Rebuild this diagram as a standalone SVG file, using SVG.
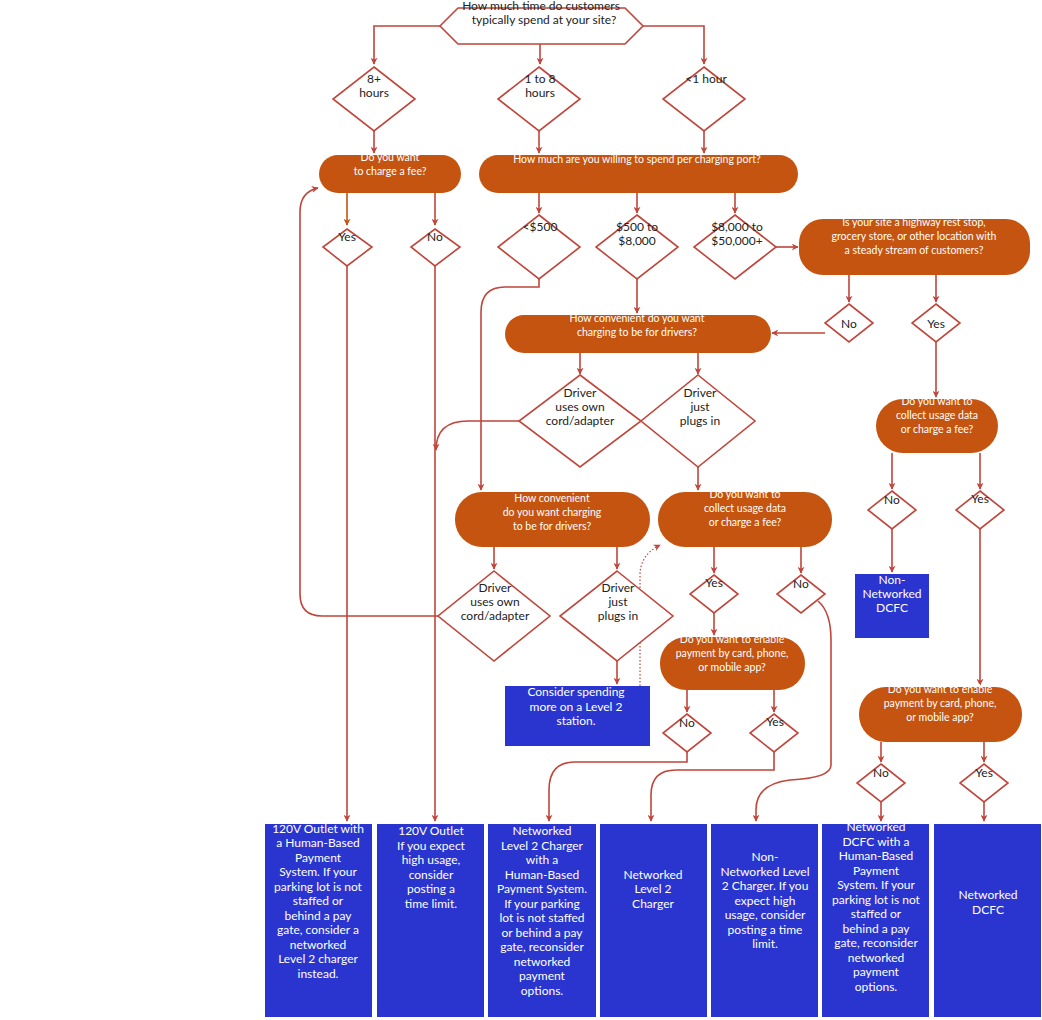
<svg xmlns="http://www.w3.org/2000/svg" width="1042" height="1020" viewBox="0 0 1042 1020">
<defs>
<marker id="ah" viewBox="0 0 10 10" refX="9" refY="5" markerWidth="7" markerHeight="7" orient="auto" markerUnits="userSpaceOnUse"><path d="M0,0 L10,5 L0,10 L3,5 Z" fill="#C0453A"/></marker>
<marker id="ao" viewBox="0 0 10 10" refX="9" refY="5" markerWidth="7" markerHeight="7" orient="auto" markerUnits="userSpaceOnUse"><path d="M0,0 L10,5 L0,10 L3,5 Z" fill="#C4540F"/></marker>
<style>
.d{fill:#fff;stroke:#C0453A;stroke-width:1.6}
.p{fill:#C4540F}
.b{fill:#2A35D0}
.c{fill:none;stroke:#C0453A;stroke-width:1.6;marker-end:url(#ah)}
text{font-family:Lato,"Open Sans",sans-serif;text-anchor:middle}
.dt{font-size:12px;fill:#222}
.pt{font-size:10.5px;fill:#fff}
.bt{font-size:12px;fill:#fff}
</style>
</defs>
<rect width="1042" height="1020" fill="#fff"/>
<g id="connectors">
<path class="c" d="M440,26 H374 V64"/>
<path class="c" d="M540,44 V64"/>
<path class="c" d="M643,26 H704 V64"/>
<path class="c" d="M374,131 V153"/>
<path class="c" d="M539,131 V153"/>
<path class="c" d="M704,131 V153"/>
<path d="M347,193 V225" fill="none" stroke="#C4540F" stroke-width="1.6" marker-end="url(#ao)"/>
<path class="c" d="M435,186 V225"/>
<path class="c" d="M539,186 V213"/>
<path class="c" d="M637,186 V213"/>
<path class="c" d="M735,186 V213"/>
<path class="c" d="M776,247 H798"/>
<path class="c" d="M849,275 V302"/>
<path class="c" d="M936,275 V302"/>
<path class="c" d="M825,333 H772"/>
<path class="c" d="M637,279 V313"/>
<path class="c" d="M539,279 V287 H505 Q481,287 481,312 V490"/>
<path class="c" d="M580,353 V374"/>
<path class="c" d="M698,353 V374"/>
<path class="c" d="M698,467 V490"/>
<path class="c" d="M519,421 H468 Q436,421 436,450"/>
<path class="c" d="M494,547 V569"/>
<path class="c" d="M617,547 V569"/>
<path class="c" d="M438,616 H322 Q300,616 300,594 V212 Q300,192 318,188"/>
<path class="c" d="M617,661 V684"/>
<path d="M640,686 V575 Q640,555 660,545" fill="none" stroke="#C0453A" stroke-width="1.2" stroke-dasharray="1.5,2" marker-end="url(#ah)"/>
<path class="c" d="M714,547 V573"/>
<path class="c" d="M801,547 V573"/>
<path class="c" d="M714,613 V635"/>
<path class="c" d="M687,690 V712"/>
<path class="c" d="M774,690 V712"/>
<path class="c" d="M687,752 V762 H575 Q549,762 549,790 V821"/>
<path class="c" d="M774,752 V770 H676 Q651,770 651,795 V821"/>
<path class="c" d="M818,601 Q831,612 831,640 V765 Q831,778 790,780 Q756,784 756,810 V821"/>
<path class="c" d="M347,266 V821"/>
<path class="c" d="M435,266 V821"/>
<path class="c" d="M936,342 V397"/>
<path class="c" d="M892,453 V489"/>
<path class="c" d="M980,453 V489"/>
<path class="c" d="M892,529 V572"/>
<path class="c" d="M980,529 V685"/>
<path class="c" d="M881,742 V762"/>
<path class="c" d="M984,742 V762"/>
<path class="c" d="M881,802 V821"/>
<path class="c" d="M984,802 V821"/>
</g>
<g id="n-start"><polygon class="d" points="440,26 458,8 625,8 643,26 625,44 458,44"/><text class="dt" x="541" y="10">How much time do customers</text><text class="dt" x="544" y="24">typically spend at your site?</text></g>
<g id="n-8h"><polygon class="d" points="374,67 415,99 374,131 333,99"/><text class="dt" x="374" y="83">8+</text><text class="dt" x="374" y="97">hours</text></g>
<g id="n-1to8"><polygon class="d" points="539,67 580,99 539,131 498,99"/><text class="dt" x="540" y="83">1 to 8</text><text class="dt" x="540" y="97">hours</text></g>
<g id="n-lt1"><polygon class="d" points="704,67 745,99 704,131 663,99"/><text class="dt" x="706" y="83">&lt;1 hour</text></g>
<g id="n-fee"><rect class="p" x="319" y="155" width="142" height="38" rx="19"/><text class="pt" x="390" y="161">Do you want</text><text class="pt" x="390" y="175">to charge a fee?</text></g>
<g id="n-spend"><rect class="p" x="479" y="155" width="319" height="38" rx="19"/><text class="pt" x="637" y="163">How much are you willing to spend per charging port?</text></g>
<g id="n-yes1"><polygon class="d" points="347,229 372,247 347,266 323,247"/><text class="dt" x="347" y="241">Yes</text></g>
<g id="n-no1"><polygon class="d" points="435,229 460,247 435,266 411,247"/><text class="dt" x="435" y="241">No</text></g>
<g id="n-lt500"><polygon class="d" points="539,215 580,247 539,279 498,247"/><text class="dt" x="540" y="231">&lt;$500</text></g>
<g id="n-500to8000"><polygon class="d" points="637,215 678,247 637,279 596,247"/><text class="dt" x="637" y="231">$500 to</text><text class="dt" x="637" y="245">$8,000</text></g>
<g id="n-8000to50000"><polygon class="d" points="735,215 776,247 735,279 694,247"/><text class="dt" x="737" y="231">$8,000 to</text><text class="dt" x="737" y="245">$50,000+</text></g>
<g id="n-highway"><rect class="p" x="799" y="219" width="231" height="56" rx="24"/><text class="pt" x="914" y="226">Is your site a highway rest stop,</text><text class="pt" x="914" y="240">grocery store, or other location with</text><text class="pt" x="914" y="254">a steady stream of customers?</text></g>
<g id="n-no2"><polygon class="d" points="849,304 873,323 849,342 825,323"/><text class="dt" x="849" y="328">No</text></g>
<g id="n-yes2"><polygon class="d" points="936,304 960,323 936,342 912,323"/><text class="dt" x="936" y="328">Yes</text></g>
<g id="n-conv1"><rect class="p" x="505" y="315" width="266" height="38" rx="19"/><text class="pt" x="637" y="322">How convenient do you want</text><text class="pt" x="637" y="336">charging to be for drivers?</text></g>
<g id="n-cord1"><polygon class="d" points="580,375 641,421 580,467 519,421"/><text class="dt" x="580" y="397">Driver</text><text class="dt" x="580" y="411">uses own</text><text class="dt" x="580" y="425">cord/adapter</text></g>
<g id="n-plug1"><polygon class="d" points="698,375 755,421 698,467 641,421"/><text class="dt" x="700" y="397">Driver</text><text class="dt" x="700" y="411">just</text><text class="dt" x="700" y="425">plugs in</text></g>
<g id="n-conv2"><rect class="p" x="455" y="492" width="195" height="55" rx="27"/><text class="pt" x="552" y="502">How convenient</text><text class="pt" x="552" y="516">do you want charging</text><text class="pt" x="552" y="530">to be for drivers?</text></g>
<g id="n-collect1"><rect class="p" x="658" y="492" width="174" height="55" rx="27"/><text class="pt" x="745" y="498">Do you want to</text><text class="pt" x="745" y="512">collect usage data</text><text class="pt" x="745" y="526">or charge a fee?</text></g>
<g id="n-cord2"><polygon class="d" points="494,571 550,616 494,661 438,616"/><text class="dt" x="495" y="592">Driver</text><text class="dt" x="495" y="606">uses own</text><text class="dt" x="495" y="620">cord/adapter</text></g>
<g id="n-plug2"><polygon class="d" points="617,571 673,616 617,661 560,616"/><text class="dt" x="618" y="592">Driver</text><text class="dt" x="618" y="606">just</text><text class="dt" x="618" y="620">plugs in</text></g>
<g id="n-consider"><rect class="b" x="505" y="686" width="145" height="60"/><text class="bt" x="576" y="696">Consider spending</text><text class="bt" x="576" y="711">more on a Level 2</text><text class="bt" x="576" y="725">station.</text></g>
<g id="n-yes3"><polygon class="d" points="714,575 738,594 714,613 690,594"/><text class="dt" x="714" y="587">Yes</text></g>
<g id="n-no3"><polygon class="d" points="801,575 825,594 801,613 777,594"/><text class="dt" x="801" y="588">No</text></g>
<g id="n-pay1"><rect class="p" x="660" y="637" width="145" height="53" rx="26"/><text class="pt" x="732" y="643">Do you want to enable</text><text class="pt" x="732" y="657">payment by card, phone,</text><text class="pt" x="732" y="671">or mobile app?</text></g>
<g id="n-no4"><polygon class="d" points="687,714 711,733 687,752 663,733"/><text class="dt" x="687" y="727">No</text></g>
<g id="n-yes4"><polygon class="d" points="774,714 798,733 774,752 750,733"/><text class="dt" x="775" y="726">Yes</text></g>
<g id="n-collect2"><rect class="p" x="876" y="399" width="122" height="54" rx="27"/><text class="pt" x="937" y="405">Do you want to</text><text class="pt" x="937" y="419">collect usage data</text><text class="pt" x="937" y="433">or charge a fee?</text></g>
<g id="n-no5"><polygon class="d" points="892,491 916,510 892,529 868,510"/><text class="dt" x="892" y="504">No</text></g>
<g id="n-yes5"><polygon class="d" points="980,491 1004,510 980,529 956,510"/><text class="dt" x="980" y="503">Yes</text></g>
<g id="n-nndcfc"><rect class="b" x="855" y="574" width="74" height="64"/><text class="bt" x="892" y="584">Non-</text><text class="bt" x="892" y="598">Networked</text><text class="bt" x="892" y="612">DCFC</text></g>
<g id="n-pay2"><rect class="p" x="859" y="687" width="163" height="55" rx="27"/><text class="pt" x="940" y="693">Do you want to enable</text><text class="pt" x="940" y="707">payment by card, phone,</text><text class="pt" x="940" y="721">or mobile app?</text></g>
<g id="n-no6"><polygon class="d" points="881,764 905,783 881,802 857,783"/><text class="dt" x="881" y="777">No</text></g>
<g id="n-yes6"><polygon class="d" points="984,764 1008,783 984,802 960,783"/><text class="dt" x="984" y="777">Yes</text></g>
<g id="n-r1"><rect class="b" x="265" y="824" width="107" height="193"/><text class="bt" x="318" y="833">120V Outlet with</text><text class="bt" x="318" y="847">a Human-Based</text><text class="bt" x="318" y="862">Payment</text><text class="bt" x="318" y="876">System. If your</text><text class="bt" x="318" y="891">parking lot is not</text><text class="bt" x="318" y="905">staffed or</text><text class="bt" x="318" y="920">behind a pay</text><text class="bt" x="318" y="934">gate, consider a</text><text class="bt" x="318" y="949">networked</text><text class="bt" x="318" y="963">Level 2 charger</text><text class="bt" x="318" y="978">instead.</text></g>
<g id="n-r2"><rect class="b" x="377" y="824" width="107" height="193"/><text class="bt" x="431" y="835">120V Outlet</text><text class="bt" x="431" y="850">If you expect</text><text class="bt" x="431" y="864">high usage,</text><text class="bt" x="431" y="879">consider</text><text class="bt" x="431" y="893">posting a</text><text class="bt" x="431" y="908">time limit.</text></g>
<g id="n-r3"><rect class="b" x="488" y="824" width="108" height="193"/><text class="bt" x="542" y="835">Networked</text><text class="bt" x="542" y="850">Level 2 Charger</text><text class="bt" x="542" y="864">with a</text><text class="bt" x="542" y="879">Human-Based</text><text class="bt" x="542" y="893">Payment System.</text><text class="bt" x="542" y="908">If your parking</text><text class="bt" x="542" y="922">lot is not staffed</text><text class="bt" x="542" y="937">or behind a pay</text><text class="bt" x="542" y="951">gate, reconsider</text><text class="bt" x="542" y="966">networked</text><text class="bt" x="542" y="980">payment</text><text class="bt" x="542" y="995">options.</text></g>
<g id="n-r4"><rect class="b" x="600" y="824" width="107" height="193"/><text class="bt" x="653" y="879">Networked</text><text class="bt" x="653" y="893">Level 2</text><text class="bt" x="653" y="908">Charger</text></g>
<g id="n-r5"><rect class="b" x="711" y="824" width="107" height="193"/><text class="bt" x="765" y="861">Non-</text><text class="bt" x="765" y="876">Networked Level</text><text class="bt" x="765" y="890">2 Charger.  If you</text><text class="bt" x="765" y="905">expect high</text><text class="bt" x="765" y="919">usage, consider</text><text class="bt" x="765" y="934">posting a time</text><text class="bt" x="765" y="948">limit.</text></g>
<g id="n-r6"><rect class="b" x="822" y="824" width="107" height="193"/><text class="bt" x="876" y="831">Networked</text><text class="bt" x="876" y="846">DCFC with a</text><text class="bt" x="876" y="860">Human-Based</text><text class="bt" x="876" y="875">Payment</text><text class="bt" x="876" y="889">System. If your</text><text class="bt" x="876" y="904">parking lot is not</text><text class="bt" x="876" y="918">staffed or</text><text class="bt" x="876" y="933">behind a pay</text><text class="bt" x="876" y="947">gate, reconsider</text><text class="bt" x="876" y="962">networked</text><text class="bt" x="876" y="976">payment</text><text class="bt" x="876" y="991">options.</text></g>
<g id="n-r7"><rect class="b" x="934" y="824" width="107" height="193"/><text class="bt" x="988" y="899">Networked</text><text class="bt" x="988" y="914">DCFC</text></g>
</svg>
